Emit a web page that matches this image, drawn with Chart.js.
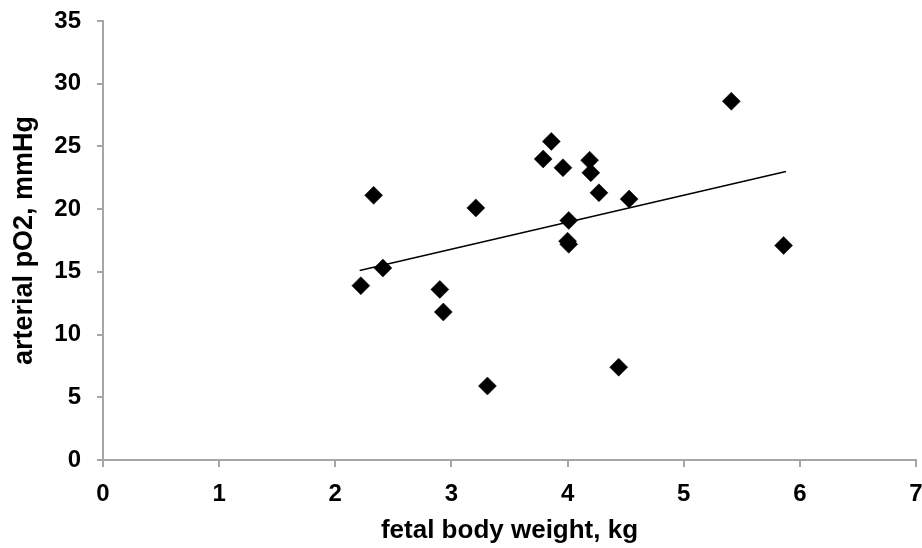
<!DOCTYPE html>
<html>
<head>
<meta charset="utf-8">
<script src="https://cdn.jsdelivr.net/npm/chart.js@4/dist/chart.umd.min.js"></script>
<style>
html,body{margin:0;padding:0;background:#fff;}
#wrap{width:922px;height:548px;position:relative;}
</style>
</head>
<body>
<div id="wrap"><canvas id="c" width="922" height="548"></canvas></div>
<script>
const weightKg = [2.22, 2.33, 2.41, 2.90, 2.93, 3.21, 3.31, 3.79, 3.86, 3.96, 4.01, 4.00, 4.01, 4.19, 4.20, 4.27, 4.44, 4.53, 5.41, 5.86];
const pO2 = [13.9, 21.1, 15.3, 13.6, 11.8, 20.1, 5.9, 24.0, 25.4, 23.3, 19.1, 17.45, 17.2, 23.9, 22.9, 21.3, 7.4, 20.8, 28.6, 17.1];
const trendX = [2.21, 5.88];
const trendY = [15.1, 23.0];
const xTicks = [0, 1, 2, 3, 4, 5, 6, 7];
const yTicks = [0, 5, 10, 15, 20, 25, 30, 35];

const FONT = '"Liberation Sans", Arial, Helvetica, sans-serif';
const points = weightKg.map((x, i) => ({x: x, y: pO2[i]}));
const trend = trendX.map((x, i) => ({x: x, y: trendY[i]}));

function clearSidePad(s) {
  s.paddingLeft = 0; s.paddingRight = 0;
  if (s._margins) { s._margins.left = 0; s._margins.right = 0; }
}
function clearVertPad(s) {
  s.paddingTop = 0; s.paddingBottom = 0;
  if (s._margins) { s._margins.top = 0; s._margins.bottom = 0; }
}

new Chart(document.getElementById('c'), {
  type: 'scatter',
  data: {
    datasets: [
      { data: points, pointStyle: 'rectRot', pointRadius: 9, pointBackgroundColor: '#000', pointBorderColor: '#000', pointBorderWidth: 0.5, showLine: false, order: 1 },
      { data: trend, showLine: true, pointRadius: 0, borderColor: '#000', borderWidth: 1.5, fill: false, order: 2 }
    ]
  },
  options: {
    responsive: false,
    animation: false,
    devicePixelRatio: 1,
    layout: { autoPadding: false, padding: { top: 21, right: 6, left: 0, bottom: 0 } },
    plugins: { legend: { display: false }, tooltip: { enabled: false } },
    scales: {
      x: {
        type: 'linear', min: 0, max: 7,
        afterBuildTicks: (s) => { s.ticks = xTicks.map(v => ({value: v})); },
        afterFit: (s) => { s.height = 88; clearSidePad(s); },
        border: { display: true, color: '#a6a6a6', width: 2 },
        grid: { display: true, drawOnChartArea: false, drawTicks: true, tickLength: 7, color: '#a6a6a6', lineWidth: 2 },
        ticks: { color: '#000', padding: 13, font: { family: FONT, size: 24, weight: 'bold' } },
        title: { display: true, text: 'fetal body weight, kg', color: '#000', padding: { top: 2, bottom: 2 }, font: { family: FONT, size: 26, weight: 'bold' } }
      },
      y: {
        type: 'linear', min: 0, max: 35,
        afterBuildTicks: (s) => { s.ticks = yTicks.map(v => ({value: v})); },
        afterFit: (s) => { s.width = 103; clearVertPad(s); },
        border: { display: true, color: '#a6a6a6', width: 2 },
        grid: { display: true, drawOnChartArea: false, drawTicks: true, tickLength: 6, color: '#a6a6a6', lineWidth: 2 },
        ticks: { color: '#000', padding: 16, font: { family: FONT, size: 24, weight: 'bold' } },
        title: { display: true, text: 'arterial pO2, mmHg', color: '#000', padding: { top: 8, bottom: 10 }, font: { family: FONT, size: 27, weight: 'bold' } }
      }
    }
  }
});
</script>
</body>
</html>
